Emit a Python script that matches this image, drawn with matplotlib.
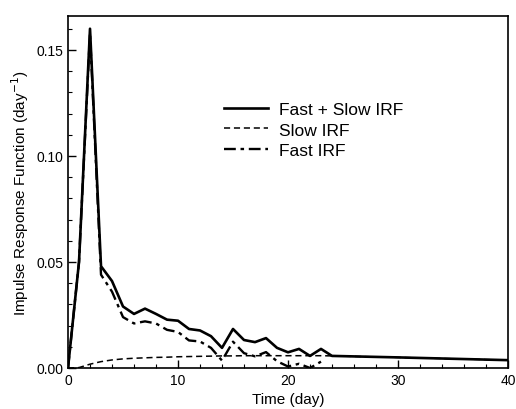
import matplotlib
matplotlib.use("Agg")
import matplotlib.pyplot as plt
from matplotlib.ticker import MultipleLocator

plt.rcParams["font.family"] = ["Liberation Sans", "DejaVu Sans"]

# days for each curve
days_total = [0, 1, 2, 3, 4, 5, 6, 7, 8, 9, 10, 11, 12, 13, 14, 15, 16, 17, 18, 19,
              20, 21, 22, 23, 24, 30, 40]
total_irf = [0.0, 0.050, 0.160, 0.048, 0.041, 0.029, 0.0255, 0.028, 0.0255, 0.0228,
             0.0223, 0.0184, 0.0177, 0.015, 0.0095, 0.0184, 0.0132, 0.0122, 0.0141,
             0.0095, 0.0074, 0.009, 0.0057, 0.009, 0.0057, 0.0050, 0.0037]

days_slow = [0, 1, 2, 3, 4, 5, 6, 7, 8, 9, 10, 11, 12, 13, 14, 15, 16, 17, 18, 19,
             20, 21, 22, 23, 24, 30, 40]
slow_irf = [0.0, 0.0002, 0.0018, 0.0030, 0.0038, 0.0043, 0.0046, 0.0048, 0.0050,
            0.0051, 0.0053, 0.0054, 0.0055, 0.0056, 0.0057, 0.0057, 0.0058, 0.0058,
            0.0058, 0.0058, 0.0058, 0.0058, 0.0058, 0.0058, 0.0057, 0.0050, 0.0037]

days_fast = [0, 1, 2, 3, 4, 5, 6, 7, 8, 9, 10, 11, 12, 13, 14, 15, 16, 17, 18, 19,
             20, 21, 22, 23]
fast_irf = [0.0, 0.050, 0.158, 0.044, 0.036, 0.024, 0.021, 0.022, 0.021, 0.018,
            0.017, 0.013, 0.0125, 0.0095, 0.0035, 0.0124, 0.0070, 0.0055, 0.0075,
            0.0032, 0.0007, 0.0020, 0.0, 0.0030]

fig = plt.figure(figsize=(5.16, 4.10), dpi=100)
ax = fig.add_axes([0.1318, 0.10, 0.8527, 0.8585])

ax.plot(days_total, total_irf, color="black", lw=1.9, label="Fast + Slow IRF")
ax.plot(days_slow, slow_irf, color="black", lw=1.1, linestyle=(0, (4, 2.5)), label="Slow IRF")
ax.plot(days_fast, fast_irf, color="black", lw=1.7, linestyle=(0, (5, 2, 1.5, 2)), label="Fast IRF")

ax.set_xlim(0, 40)
ax.set_ylim(0, 0.166)
ax.xaxis.set_major_locator(MultipleLocator(10))
ax.xaxis.set_minor_locator(MultipleLocator(2))
ax.yaxis.set_major_locator(MultipleLocator(0.05))
ax.yaxis.set_minor_locator(MultipleLocator(0.01))
ax.yaxis.set_major_formatter(plt.FormatStrFormatter("%.2f"))
ax.tick_params(which="both", direction="in", labelsize=10)
ax.tick_params(which="major", length=6, width=1)
ax.tick_params(which="minor", length=3, width=0.8)
for s in ax.spines.values():
    s.set_linewidth(1.2)

ax.set_xlabel("Time (day)", fontsize=11)
ax.set_ylabel("Impulse Response Function (day$^{-1}$)", fontsize=11)

ax.legend(loc="upper left", bbox_to_anchor=(0.32, 0.80), frameon=False,
          fontsize=12.5, handlelength=2.5, handletextpad=0.65, labelspacing=0.3)

fig.savefig("out.png", dpi=100)
